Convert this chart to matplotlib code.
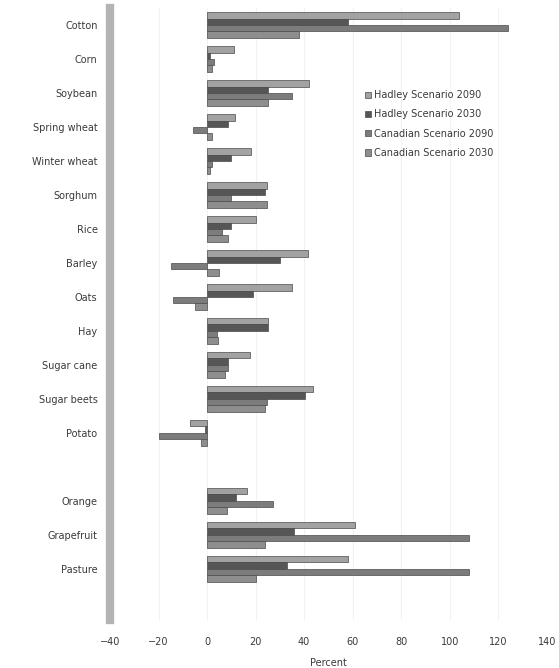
import matplotlib.pyplot as plt
import numpy as np

crops = ["Cotton", "Corn", "Soybean", "Spring wheat", "Winter wheat", "Sorghum",
         "Rice", "Barley", "Oats", "Hay", "Sugar cane", "Sugar beets", "Potato",
         "Orange", "Grapefruit", "Pasture"]

hadley_2090 = [104, 11, 42, 11.5, 18, 24.5, 20, 41.5, 35, 25, 17.7, 43.6, -7, 16.5, 61, 58]
hadley_2030 = [58, 1, 25, 8.5, 10, 24, 10, 30, 19, 25, 8.6, 40.3, -1, 12, 36, 33]
canadian_2090 = [124, 3, 35, -6, 2, 10, 6, -15, -14, 4, 8.6, 24.7, -20, 27, 108, 108]
canadian_2030 = [38, 2, 25, 2, 1, 24.5, 8.5, 5, -5, 4.5, 7.4, 24, -2.5, 8, 24, 20]

series = [
    ("Hadley Scenario 2090", hadley_2090, "#a2a2a2"),
    ("Hadley Scenario 2030", hadley_2030, "#565656"),
    ("Canadian Scenario 2090", canadian_2090, "#7c7c7c"),
    ("Canadian Scenario 2030", canadian_2030, "#8e8e8e"),
]

# fruit and pasture rows sit one slot lower, after a blank row
ypos = np.array([i if i < 13 else i + 1 for i in range(len(crops))], dtype=float)

fig = plt.figure(figsize=(5.59, 6.68), dpi=100)
ax = fig.add_axes([0.197, 0.072, 0.781, 0.916])

h = 0.19
for k, (name, vals, col) in enumerate(series):
    ax.barh(ypos + (k - 1.5) * h, vals, height=h, color=col,
            edgecolor="#4a4a4a", linewidth=0.5, label=name)

ax.set_xlim(-40, 140)
ax.set_ylim(17.5, -0.5)
ax.set_xticks(np.arange(-40, 141, 20))
ax.set_yticks(ypos)
ax.set_yticklabels(crops)
ax.tick_params(axis="both", length=0, labelsize=7, labelcolor="#3a3a3a")
ax.tick_params(axis="y", pad=9)
ax.tick_params(axis="x", pad=12)
ax.set_xlabel("Percent", fontsize=7, color="#3a3a3a", labelpad=8)

ax.grid(axis="x", color="#f2f2f2", linewidth=0.8)
ax.set_axisbelow(True)

for side in ["top", "right", "bottom"]:
    ax.spines[side].set_visible(False)
ax.spines["left"].set_color("#b4b4b4")
ax.spines["left"].set_linewidth(6)

ax.legend(loc="upper left", bbox_to_anchor=(0.575, 0.872), frameon=False,
          fontsize=7, labelcolor="#3a3a3a", handlelength=0.6, handleheight=0.6,
          handletextpad=0.3, labelspacing=0.95, borderaxespad=0)

fig.savefig("out.png", dpi=100)
